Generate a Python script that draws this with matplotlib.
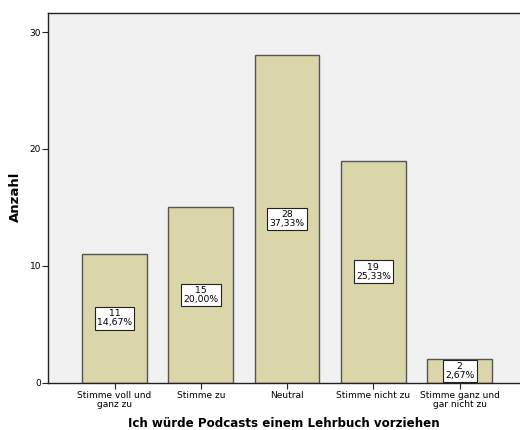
import matplotlib.pyplot as plt

categories = [
    "Stimme voll und\nganz zu",
    "Stimme zu",
    "Neutral",
    "Stimme nicht zu",
    "Stimme ganz und\ngar nicht zu",
]
counts = [11, 15, 28, 19, 2]
percents = ["14,67%", "20,00%", "37,33%", "25,33%", "2,67%"]

fig = plt.figure(figsize=(5.2, 4.3), dpi=100)
ax = fig.add_axes([0.0923, 0.110, 0.9077, 0.859])
ax.set_facecolor("#f1f1f1")

x = range(len(categories))
ax.bar(x, counts, width=0.75, color="#dbd6aa", edgecolor="#555555", linewidth=1.0)

for i, (c, p) in enumerate(zip(counts, percents)):
    ax.text(i, c / 2, f"{c}\n{p}", ha="center", va="center", fontsize=6.7,
            linespacing=1.0,
            bbox=dict(boxstyle="square,pad=0.25", facecolor="white",
                      edgecolor="#222222", linewidth=0.8))

ax.set_xlim(-0.771, 4.70)
ax.set_ylim(0, 31.6)
ax.set_yticks([0, 10, 20, 30])
ax.set_xticks(list(x))
ax.set_xticklabels(categories, fontsize=6.5, linespacing=0.95)
ax.tick_params(axis="y", labelsize=6.5, length=4, width=0.8, color="#222222", pad=1)
ax.tick_params(axis="x", length=4, width=0.8, color="#222222", pad=2)

for side in ["left", "bottom", "top"]:
    ax.spines[side].set_color("#222222")
    ax.spines[side].set_linewidth(1.0)
ax.spines["right"].set_visible(False)

ax.set_ylabel("Anzahl", fontsize=9.5, fontweight="bold")
ax.yaxis.set_label_coords(-0.056, 0.504)
ax.set_xlabel("Ich würde Podcasts einem Lehrbuch vorziehen", fontsize=8.6,
              fontweight="bold", labelpad=6)

fig.savefig("out.png", dpi=100)
